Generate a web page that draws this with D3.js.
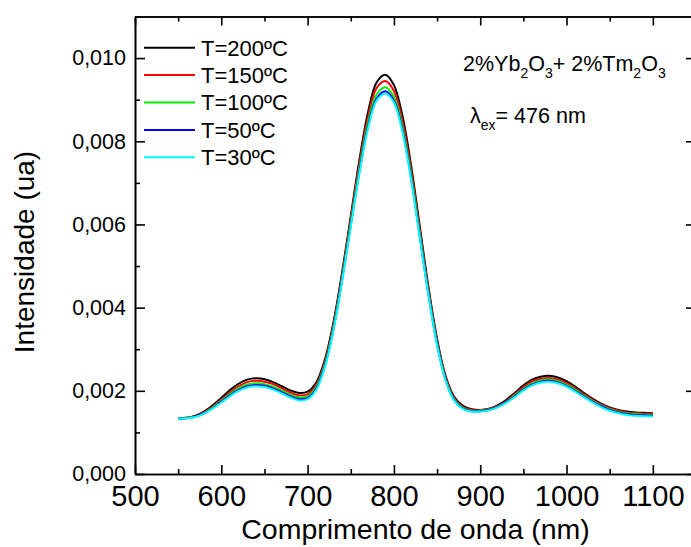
<!DOCTYPE html>
<html>
<head>
<meta charset="utf-8">
<script src="https://cdn.jsdelivr.net/npm/d3@7/dist/d3.min.js"></script>
<style>
  html, body { margin: 0; padding: 0; background: #fff; }
  svg { display: block; font-family: "Liberation Sans", Arial, sans-serif; }
</style>
</head>
<body>
<svg id="chart" width="691" height="547"></svg>
<script>
// ---- data (intensity in units of 1e-3 a.u.) ----
const wavelengths = d3.range(550, 1101, 10);
const seriesNames = ["T=200ºC", "T=150ºC", "T=100ºC", "T=50ºC", "T=30ºC"];
const seriesColors = ["#000000", "#ff0000", "#00ee00", "#0000ff", "#00ffff"];
const t200 = [1.34,1.35,1.40,1.50,1.65,1.83,2.02,2.17,2.27,2.30,2.28,2.21,2.11,2.01,1.95,1.98,2.20,2.75,3.65,4.85,6.20,7.55,8.70,9.42,9.60,9.35,8.60,7.40,5.95,4.50,3.25,2.35,1.85,1.64,1.56,1.54,1.57,1.65,1.78,1.95,2.13,2.27,2.34,2.36,2.32,2.23,2.10,1.95,1.81,1.69,1.60,1.54,1.50,1.48,1.47,1.46];
const t150 = [1.34,1.35,1.39,1.48,1.62,1.79,1.96,2.11,2.21,2.24,2.22,2.16,2.06,1.96,1.89,1.92,2.14,2.69,3.59,4.79,6.13,7.46,8.58,9.28,9.45,9.21,8.47,7.29,5.86,4.43,3.20,2.31,1.82,1.61,1.54,1.53,1.56,1.63,1.75,1.92,2.09,2.22,2.29,2.31,2.27,2.19,2.06,1.92,1.79,1.67,1.58,1.52,1.48,1.46,1.45,1.44];
const t100 = [1.34,1.35,1.38,1.47,1.60,1.76,1.92,2.06,2.15,2.18,2.16,2.10,2.01,1.91,1.84,1.87,2.09,2.64,3.53,4.72,6.04,7.35,8.45,9.13,9.30,9.07,8.34,7.18,5.77,4.36,3.15,2.27,1.79,1.59,1.52,1.52,1.55,1.62,1.73,1.89,2.05,2.18,2.25,2.27,2.23,2.15,2.03,1.89,1.76,1.65,1.56,1.50,1.46,1.44,1.43,1.42];
const t50  = [1.33,1.34,1.38,1.46,1.58,1.74,1.89,2.02,2.11,2.14,2.12,2.06,1.97,1.87,1.80,1.83,2.05,2.60,3.49,4.67,5.98,7.27,8.36,9.03,9.20,8.98,8.26,7.11,5.71,4.32,3.12,2.25,1.77,1.57,1.51,1.51,1.54,1.61,1.72,1.87,2.03,2.15,2.22,2.24,2.20,2.12,2.00,1.87,1.74,1.63,1.54,1.48,1.44,1.42,1.41,1.40];
const t30  = [1.33,1.34,1.37,1.45,1.57,1.72,1.87,2.00,2.08,2.11,2.09,2.03,1.94,1.84,1.77,1.80,2.02,2.57,3.46,4.64,5.95,7.23,8.31,8.98,9.15,8.93,8.21,7.07,5.68,4.30,3.10,2.24,1.76,1.56,1.50,1.50,1.53,1.60,1.71,1.85,2.01,2.13,2.20,2.22,2.18,2.10,1.98,1.85,1.72,1.61,1.52,1.46,1.42,1.40,1.39,1.38];
const seriesValues = [t200, t150, t100, t50, t30];
const xMajorTicks = [500, 600, 700, 800, 900, 1000, 1100];
const xMinorTicks = [550, 650, 750, 850, 950, 1050, 1150];
const yMajorTicks = [0, 0.002, 0.004, 0.006, 0.008, 0.010];
const yMinorTicks = [0.001, 0.003, 0.005, 0.007, 0.009, 0.011];
const xTitle = "Comprimento de onda (nm)";
const yTitle = "Intensidade (ua)";

// ---- layout ----
const svg = d3.select("#chart");
const L = 135, R = 696, T = 16.5, B = 474;
const x = d3.scaleLinear().domain([500, 1150]).range([L, R]);
const y = d3.scaleLinear().domain([0, 0.011]).range([B, T]);
const fmtY = v => d3.format(".3f")(v).replace(".", ",");

// curves
const line = d3.line().x(d => x(d[0])).y(d => y(d[1] * 1e-3)).curve(d3.curveCatmullRom);
seriesValues.forEach((vals, i) => {
  svg.append("path")
    .datum(wavelengths.map((w, j) => [w, vals[j]]))
    .attr("fill", "none")
    .attr("stroke", seriesColors[i])
    .attr("stroke-width", 2)
    .attr("d", line);
});

// axes
function styleAxis(g) {
  g.select(".domain").attr("stroke", "#000").attr("stroke-width", 1.6);
  g.selectAll(".tick line").attr("stroke", "#000").attr("stroke-width", 1.6);
  g.selectAll("text").attr("fill", "#000").attr("font-family", "Liberation Sans, Arial, sans-serif");
}
// bottom
svg.append("g").attr("transform", `translate(0,${B})`)
  .call(d3.axisBottom(x).tickValues(xMajorTicks).tickSize(-9).tickPadding(11).tickFormat(d3.format("d")).tickSizeOuter(0))
  .call(styleAxis).call(g => g.selectAll("text").attr("font-size", 29));
svg.append("g").attr("transform", `translate(0,${B})`)
  .call(d3.axisBottom(x).tickValues(xMinorTicks).tickSize(-5).tickFormat("").tickSizeOuter(0))
  .call(styleAxis);
// top
svg.append("g").attr("transform", `translate(0,${T})`)
  .call(d3.axisTop(x).tickValues(xMajorTicks).tickSize(-9).tickFormat("").tickSizeOuter(0))
  .call(styleAxis);
svg.append("g").attr("transform", `translate(0,${T})`)
  .call(d3.axisTop(x).tickValues(xMinorTicks).tickSize(-5).tickFormat("").tickSizeOuter(0))
  .call(styleAxis);
// left
svg.append("g").attr("transform", `translate(${L},0)`)
  .call(d3.axisLeft(y).tickValues(yMajorTicks).tickSize(-10).tickPadding(9).tickFormat(fmtY).tickSizeOuter(0))
  .call(styleAxis).call(g => g.selectAll("text").attr("font-size", 21.5));
svg.append("g").attr("transform", `translate(${L},0)`)
  .call(d3.axisLeft(y).tickValues(yMinorTicks).tickSize(-5).tickFormat("").tickSizeOuter(0))
  .call(styleAxis);
// right
svg.append("g").attr("transform", `translate(${R},0)`)
  .call(d3.axisRight(y).tickValues(yMajorTicks).tickSize(-10).tickFormat("").tickSizeOuter(0))
  .call(styleAxis);
svg.append("g").attr("transform", `translate(${R},0)`)
  .call(d3.axisRight(y).tickValues(yMinorTicks).tickSize(-5).tickFormat("").tickSizeOuter(0))
  .call(styleAxis);

// axis titles
svg.append("text").attr("x", (L + R) / 2).attr("y", 539)
  .attr("text-anchor", "middle").attr("font-size", 28.5).text(xTitle);
svg.append("text").attr("transform", `translate(34,252) rotate(-90)`)
  .attr("text-anchor", "middle").attr("font-size", 28).text(yTitle);

// legend
const legY0 = 47.7, legDy = 27.4;
seriesNames.forEach((name, i) => {
  const yy = legY0 + i * legDy;
  svg.append("line").attr("x1", 144).attr("x2", 195).attr("y1", yy).attr("y2", yy)
    .attr("stroke", seriesColors[i]).attr("stroke-width", 2);
  svg.append("text").attr("x", 201).attr("y", yy + 7.8).attr("font-size", 22).text(name);
});

// annotations
const parts1 = [["2%Yb", 0], ["2", 1], ["O", 0], ["3", 1], ["+ 2%Tm", 0], ["2", 1], ["O", 0], ["3", 1]];
const a1 = svg.append("text").attr("x", 463).attr("y", 71).attr("font-size", 21.5);
parts1.forEach(([t, sub], i) => {
  const prevSub = i > 0 ? parts1[i - 1][1] : 0;
  a1.append("tspan")
    .attr("font-size", sub ? 14 : 21.5)
    .attr("dy", sub && !prevSub ? 7 : (!sub && prevSub ? -7 : 0))
    .text(t);
});
const a2 = svg.append("text").attr("x", 470).attr("y", 123).attr("font-size", 21.5);
a2.append("tspan").text("λ");
a2.append("tspan").attr("font-size", 14).attr("dy", 7).text("ex");
a2.append("tspan").attr("dy", -7).text("= 476 nm");
</script>
</body>
</html>
